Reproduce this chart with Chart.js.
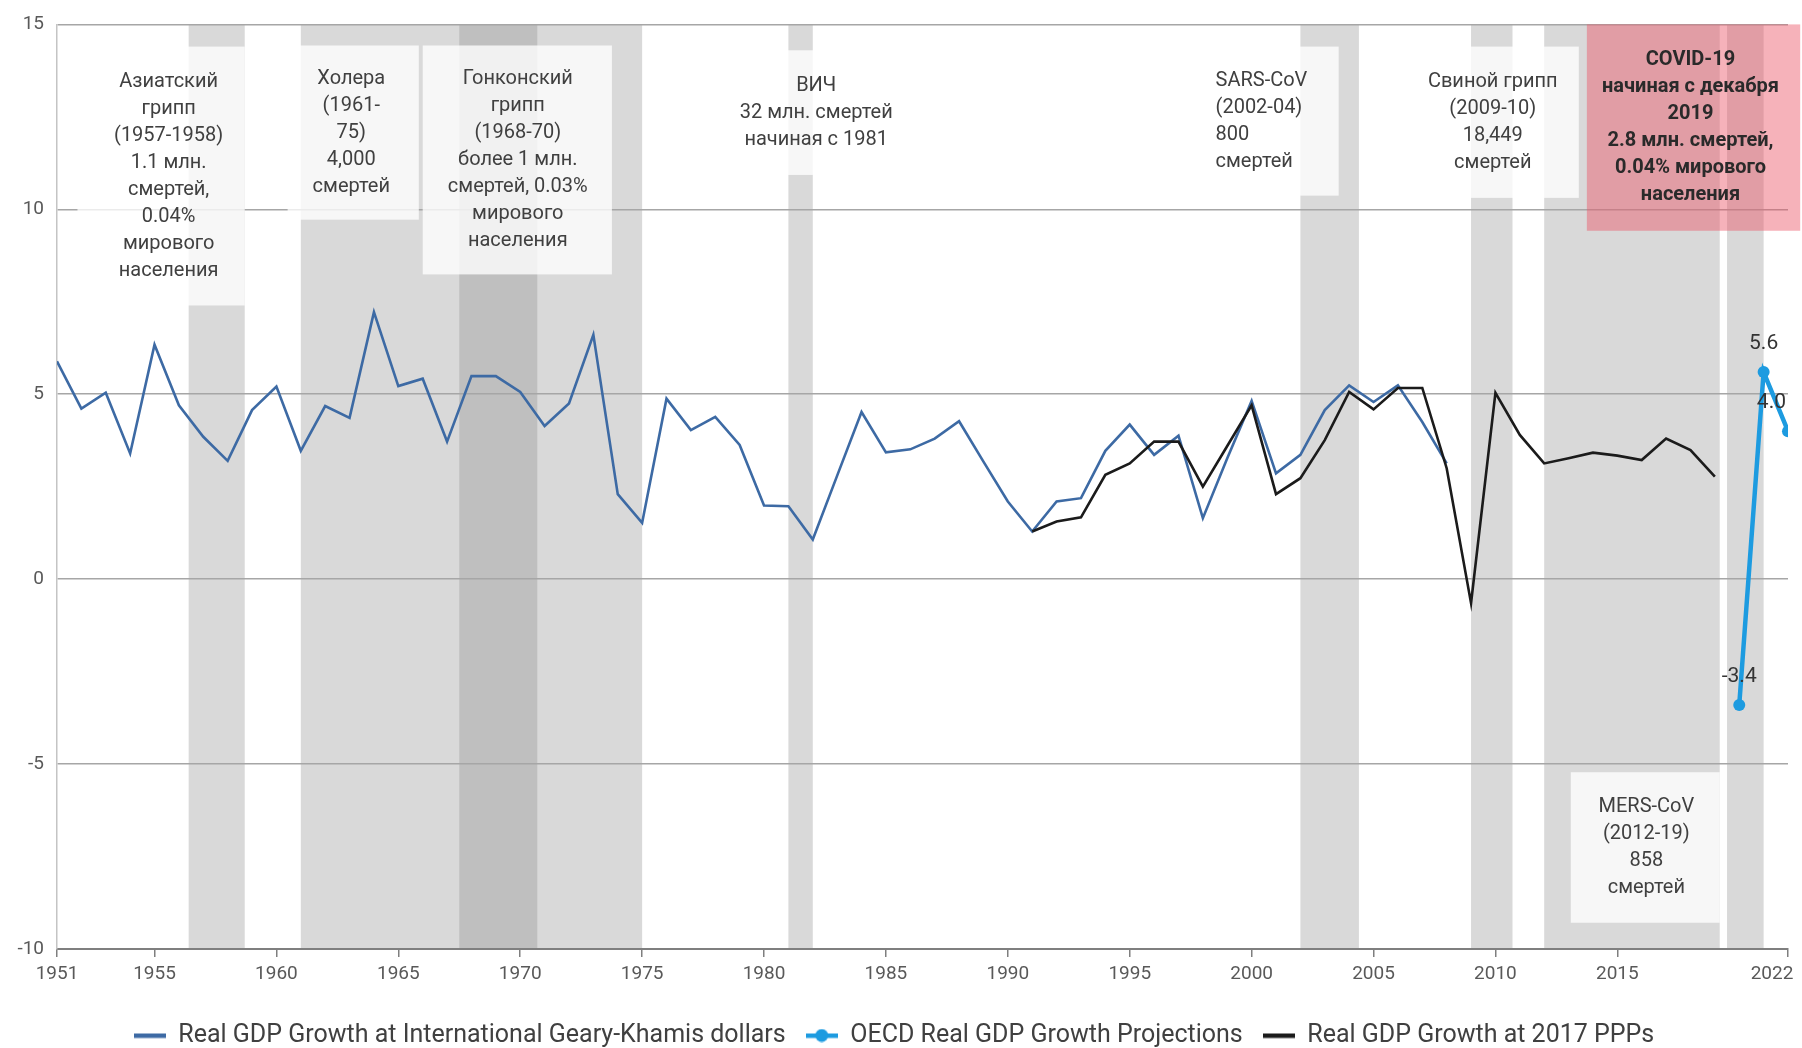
<!DOCTYPE html>
<html lang="ru">
<head>
<meta charset="utf-8">
<title>Real GDP growth and pandemics</title>
<script src="https://cdn.jsdelivr.net/npm/chart.js@4.4.1/dist/chart.umd.min.js"></script>
<style>
  html, body { margin: 0; padding: 0; background: #ffffff; }
  #wrap { width: 1802px; height: 1048px; position: relative; }
</style>
</head>
<body>
<div id="wrap"><canvas id="chart"></canvas></div>
<script>
// --- data ---
const tickYears = [1951, 1955, 1960, 1965, 1970, 1975, 1980, 1985, 1990, 1995, 2000, 2005, 2010, 2015, 2022];

// Real GDP Growth at International Geary-Khamis dollars, 1951..2008
const gkStart = 1951;
const gkValues = [
  5.89, 4.61, 5.04, 3.40, 6.34, 4.70, 3.85, 3.20, 4.57, 5.21,
  3.47, 4.68, 4.36, 7.22, 5.22, 5.42, 3.72, 5.49, 5.49, 5.06,
  4.14, 4.75, 6.61, 2.30, 1.52, 4.88, 4.03, 4.39, 3.63, 1.99,
  1.97, 1.07, 2.80, 4.52, 3.43, 3.51, 3.80, 4.27, 3.18, 2.10,
  1.29, 2.10, 2.19, 3.47, 4.18, 3.36, 3.88, 1.65, 3.27, 4.82,
  2.86, 3.36, 4.57, 5.24, 4.79, 5.24, 4.25, 3.13,
];

// Real GDP Growth at 2017 PPPs, 1991..2019
const pppStart = 1991;
const pppValues = [
  1.29, 1.56, 1.67, 2.82, 3.13, 3.72, 3.72, 2.50, 3.60, 4.70,
  2.30, 2.73, 3.76, 5.06, 4.59, 5.17, 5.17, 3.00, -0.65, 5.04,
  3.90, 3.13, 3.27, 3.42, 3.34, 3.22, 3.80, 3.49, 2.77,
];

// OECD Real GDP Growth Projections
const oecdYears = [2020, 2021, 2022];
const oecdValues = [-3.4, 5.6, 4.0];

// pandemic periods (years) drawn as grey bands
const bandFrom = [1956.4, 1961, 1981, 2002, 2009, 2012, 2019.5];
const bandTo = [1958.7, 1975, 1982, 2004.4, 2010.7, 2019.2, 2021];
const darkBandFrom = [1967.5];
const darkBandTo = [1970.7];

// text boxes, placed in data units (years / percent)
const notes = [
  { x0: 1951.84, x1: 1958.7, y0: 14.4, y1: 7.4, tx: 1955.58,
    lines: ["Азиатский", "грипп", "(1957-1958)", "1.1 млн.", "смертей,", "0.04%", "мирового", "населения"] },
  { x0: 1960.46, x1: 1965.84, y0: 14.43, y1: 9.72, tx: 1963.07,
    lines: ["Холера", "(1961-", "75)", "4,000", "смертей"] },
  { x0: 1966.0, x1: 1973.76, y0: 14.43, y1: 8.24, tx: 1969.9,
    lines: ["Гонконский", "грипп", "(1968-70)", "более 1 млн.", "смертей, 0.03%", "мирового", "населения"] },
  { x0: 1978.4, x1: 1985.8, y0: 14.3, y1: 10.93, tx: 1982.14,
    lines: ["ВИЧ", "32 млн. смертей", "начиная с 1981"] },
  { x0: 1997.7, x1: 2003.57, y0: 14.4, y1: 10.37, tx: 1998.52, align: "left",
    lines: ["SARS-CoV", "(2002-04)", "800", "смертей"] },
  { x0: 2006.52, x1: 2013.42, y0: 14.4, y1: 10.31, tx: 2009.89,
    lines: ["Свиной грипп", "(2009-10)", "18,449", "смертей"] },
  { x0: 2013.75, x1: 2022.5, y0: 15.0, y1: 9.42, tx: 2018.0, covid: true,
    lines: ["COVID-19", "начиная с декабря", "2019", "2.8 млн. смертей,", "0.04% мирового", "населения"] },
  { x0: 2013.09, x1: 2019.2, y0: -5.22, y1: -9.29, tx: 2016.19,
    lines: ["MERS-CoV", "(2012-19)", "858", "смертей"] },
];

// --- styling ---
const FONT = "Roboto, 'Open Sans', sans-serif";
const BLUE = "#3d6aa4";
const OECD = "#1d9be0";
const BLACK = "#1b1b1b";
const BAND = "#d9d9d9";
const BAND_DARK = "#bfbfbf";
const BOX_FILL = "rgba(255, 255, 255, 0.78)";
const COVID_FILL = "rgba(236, 84, 102, 0.45)";
const TEXT = "#404040";

Chart.defaults.font.family = FONT;
Chart.defaults.color = "#595959";

function series(start, values) {
  return values.map((v, i) => ({ x: start + i, y: v }));
}

// small legend glyphs: a thick line, optionally with a dot on it
function legendGlyph(color, withDot) {
  const c = document.createElement("canvas");
  c.width = 32;
  c.height = 14;
  const g = c.getContext("2d");
  g.fillStyle = color;
  g.fillRect(0, 5, 32, 4.5);
  if (withDot) {
    g.beginPath();
    g.arc(16, 7, 6.5, 0, Math.PI * 2);
    g.fill();
  }
  return c;
}

const bandsPlugin = {
  id: "bands",
  beforeDraw(chart) {
    const { ctx, chartArea, scales: { x } } = chart;
    const h = chartArea.bottom - chartArea.top;
    ctx.save();
    ctx.fillStyle = BAND;
    bandFrom.forEach((from, i) => {
      const l = x.getPixelForValue(from);
      ctx.fillRect(l, chartArea.top, x.getPixelForValue(bandTo[i]) - l, h);
    });
    ctx.fillStyle = BAND_DARK;
    darkBandFrom.forEach((from, i) => {
      const l = x.getPixelForValue(from);
      ctx.fillRect(l, chartArea.top, x.getPixelForValue(darkBandTo[i]) - l, h);
    });
    ctx.restore();
  },
};

const notesPlugin = {
  id: "notes",
  beforeDatasetsDraw(chart) {
    const { ctx, scales: { x, y } } = chart;
    const lh = 27;
    ctx.save();
    notes.forEach((n) => {
      const l = x.getPixelForValue(n.x0);
      const r = x.getPixelForValue(n.x1);
      const t = y.getPixelForValue(n.y0);
      const b = y.getPixelForValue(n.y1);
      ctx.fillStyle = n.covid ? COVID_FILL : BOX_FILL;
      ctx.fillRect(l, t, r - l, b - t);
      ctx.font = `${n.covid ? "bold " : ""}20px ${FONT}`;
      ctx.fillStyle = n.covid ? "#2a2a2a" : TEXT;
      ctx.textAlign = n.align || "center";
      ctx.textBaseline = "middle";
      const y0 = (t + b) / 2 - ((n.lines.length - 1) * lh) / 2;
      const tx = x.getPixelForValue(n.tx);
      n.lines.forEach((line, i) => ctx.fillText(line, tx, y0 + i * lh));
    });
    ctx.restore();
  },
};

const valueLabels = {
  id: "valueLabels",
  afterDatasetsDraw(chart) {
    const { ctx } = chart;
    const meta = chart.getDatasetMeta(1);
    ctx.save();
    ctx.font = `21px ${FONT}`;
    ctx.fillStyle = "#333333";
    ctx.textAlign = "center";
    ctx.textBaseline = "middle";
    meta.data.forEach((pt, i) => {
      const text = oecdValues[i].toFixed(1);
      const w = ctx.measureText(text).width;
      const cx = Math.min(pt.x, chart.width - w / 2 - 16);
      ctx.fillText(text, cx, pt.y - 28);
    });
    ctx.restore();
  },
};

new Chart(document.getElementById("chart"), {
  type: "line",
  data: {
    datasets: [
      {
        label: "Real GDP Growth at International Geary-Khamis dollars",
        data: series(gkStart, gkValues),
        borderColor: BLUE,
        backgroundColor: BLUE,
        borderWidth: 2.6,
        pointRadius: 0,
        tension: 0,
        order: 3,
      },
      {
        label: "OECD Real GDP Growth Projections",
        data: oecdYears.map((yr, i) => ({ x: yr, y: oecdValues[i] })),
        borderColor: OECD,
        backgroundColor: OECD,
        borderWidth: 4.5,
        pointRadius: 6,
        pointBackgroundColor: OECD,
        pointBorderWidth: 0,
        tension: 0,
        order: 1,
      },
      {
        label: "Real GDP Growth at 2017 PPPs",
        data: series(pppStart, pppValues),
        borderColor: BLACK,
        backgroundColor: BLACK,
        borderWidth: 2.6,
        pointRadius: 0,
        tension: 0,
        order: 2,
      },
    ],
  },
  options: {
    responsive: true,
    maintainAspectRatio: false,
    animation: false,
    layout: { padding: { top: 20, right: 14, left: 0, bottom: -10 } },
    plugins: {
      tooltip: { enabled: false },
      legend: {
        position: "bottom",
        labels: {
          usePointStyle: true,
          pointStyleWidth: 32,
          boxHeight: 14,
          padding: 20,
          color: TEXT,
          font: { size: 25 },
          generateLabels(chart) {
            return chart.data.datasets.map((ds, i) => ({
              text: ds.label,
              pointStyle: legendGlyph(ds.borderColor, i === 1),
              fillStyle: ds.borderColor,
              strokeStyle: ds.borderColor,
              lineWidth: 0,
              fontColor: TEXT,
              hidden: false,
              datasetIndex: i,
            }));
          },
        },
      },
    },
    scales: {
      x: {
        type: "linear",
        min: 1951,
        max: 2022,
        afterBuildTicks(scale) {
          scale.ticks = tickYears.map((v) => ({ value: v }));
        },
        afterFit(scale) {
          scale.height = 54;
          scale.paddingRight = 0;
        },
        ticks: {
          autoSkip: false,
          maxRotation: 0,
          padding: 6,
          font: { size: 19 },
          color: "#595959",
          // the last label sits pulled in from the right edge, as in the source
          callback: (v) => (v === 2022 ? "2022\u2007\u2007\u2007" : String(v)),
        },
        grid: {
          drawOnChartArea: false,
          drawTicks: true,
          tickLength: 8,
          color: "#7f7f7f",
          lineWidth: 1.5,
        },
        border: { display: true, color: "#7f7f7f", width: 2 },
      },
      y: {
        min: -10,
        max: 15,
        afterFit(scale) {
          scale.width = 57;
        },
        ticks: {
          stepSize: 5,
          padding: 13,
          font: { size: 19 },
          color: "#595959",
        },
        grid: {
          color: "#a6a6a6",
          lineWidth: 1.5,
          drawTicks: false,
        },
        border: { display: true, color: "#c4c4c4", width: 1.5 },
      },
    },
  },
  plugins: [bandsPlugin, notesPlugin, valueLabels],
});
</script>
</body>
</html>
